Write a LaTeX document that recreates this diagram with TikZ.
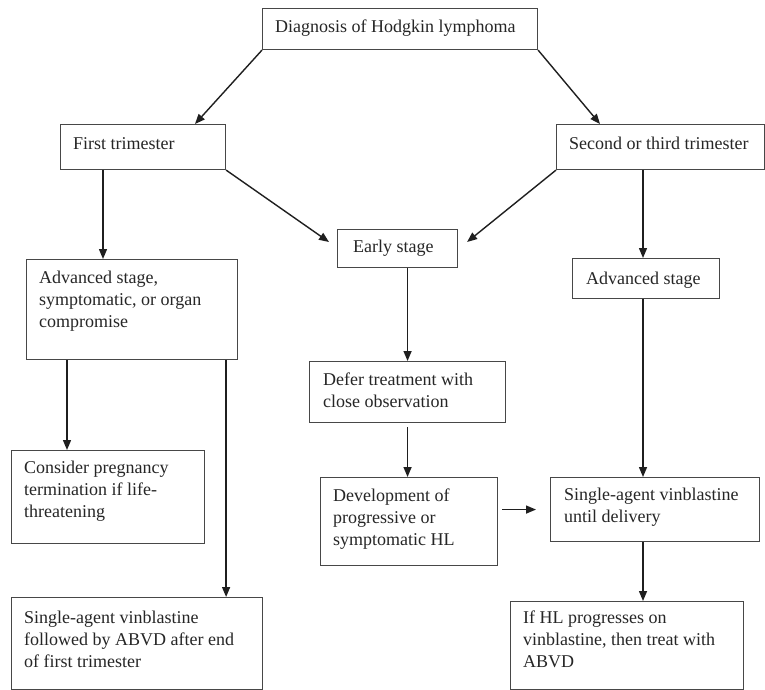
\documentclass[tikz,border=0pt]{standalone}
\usepackage{fontspec}
\setmainfont{Liberation Serif}
\usetikzlibrary{arrows.meta,calc}
\tikzset{
  box/.style={draw=black!72, line width=1.1pt, anchor=north west, inner sep=0pt},
  txt/.style={anchor=base west, inner sep=0pt, font=\fontsize{18}{22}\selectfont, text=black!85},
  arr/.style={draw=black!88, line width=1.4pt, -{Triangle[length=10pt,width=8pt]}},
  ln/.style={draw=black!88, line width=1.4pt}
}
% name, x1, y1, x2, y2, padx, pady, text
\newcommand\mybox[8]{%
  \node[box, minimum width={#4-#2}, minimum height={#5-#3}] (#1) at (#2,#3) {};
  \node[txt] (#1-t) at ([xshift=#6pt,yshift=-#7pt]#1.north west)
    {\begin{tabular}[t]{@{}l@{}}#8\end{tabular}};
}
\begin{document}
\begin{tikzpicture}[x=1pt,y=-1pt]
\useasboundingbox (0,0) rectangle (765,690);
\fill[white] (0,0) rectangle (765,690);

\mybox{diag}{262}{8}{537}{49}{13}{25}{Diagnosis of Hodgkin lymphoma}
\mybox{ft}{60}{124}{225}{169}{13}{25}{First trimester}
\mybox{st}{556}{124}{764}{169}{13}{25}{Second or third trimester}
\mybox{early}{337}{229}{457}{267}{16}{23}{Early stage}
\mybox{adv}{26}{259}{237}{359}{13}{24}{Advanced stage,\\symptomatic, or organ\\compromise}
\mybox{advb}{572}{258}{719}{298}{14}{26}{Advanced stage}
\mybox{defer}{309}{361}{505}{422}{14}{24}{Defer treatment with\\close observation}
\mybox{dev}{320}{477}{497}{565}{13}{24}{Development of\\progressive or\\symptomatic HL}
\mybox{sa}{550}{477}{759}{541}{14}{23}{Single-agent vinblastine\\until delivery}
\mybox{cons}{11}{450}{204}{543}{13}{23}{Consider pregnancy\\termination if life-\\threatening}
\mybox{sv}{11}{597}{262}{689}{13}{26}{Single-agent vinblastine\\followed by ABVD after end\\of first trimester}
\mybox{ifhl}{510}{601}{743}{689}{13}{22}{If HL progresses on\\vinblastine, then treat with\\ABVD}

% connectors
\draw[arr] (diag.south west) -- ([xshift=135pt]ft.north west);
\draw[arr] (diag.south east) -- ([xshift=44pt]st.north west);
\draw[arr] (ft.south east) -- ([xshift=-8pt,yshift=-13pt]early.north west);
\draw[arr] (st.south west) -- ([xshift=9pt,yshift=-13pt]early.north east);
\draw[arr] ([xshift=43pt]ft.south west) -- ([xshift=43pt]ft.south west |- adv.north);
\draw[arr] ([xshift=87pt]st.south west) -- ([xshift=87pt]st.south west |- advb.north);
\draw[arr] (early.south -| defer.north) -- (defer.north);
\draw[arr] ([yshift=-4pt]defer.south) -- (defer.south |- dev.north);
\draw[arr] ([xshift=71pt]advb.south west) -- ([xshift=71pt]advb.south west |- sa.north);
\draw[arr] ([xshift=4pt]dev.east |- sa.west) -- ([xshift=-14pt]sa.west);
\draw[arr] ([xshift=93pt]sa.south west) -- ([xshift=93pt]sa.south west |- ifhl.north);
\draw[arr] ([xshift=41pt]adv.south west) -- ([xshift=41pt]adv.south west |- cons.north);
\draw[arr] ([xshift=-12pt]adv.south east) -- ([xshift=-12pt]adv.south east |- sv.north);
\end{tikzpicture}
\end{document}
